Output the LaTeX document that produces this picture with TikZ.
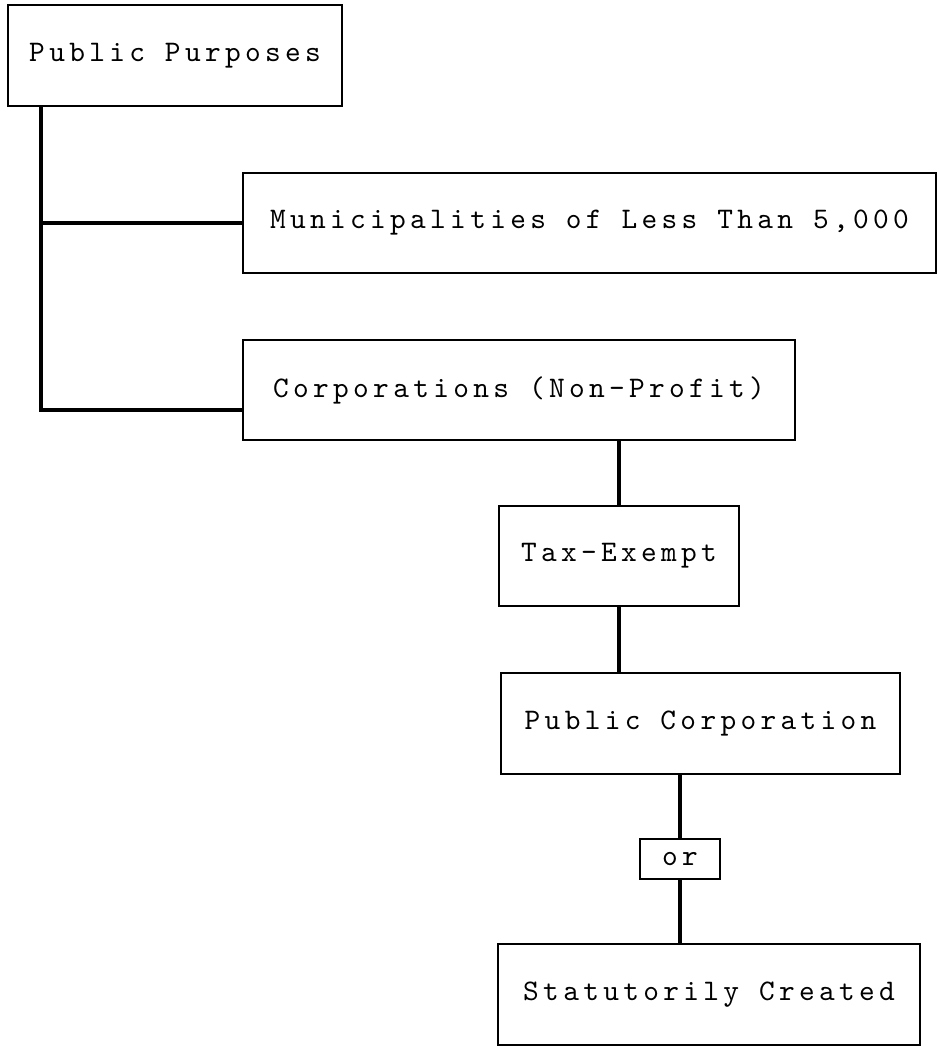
\documentclass[tikz,border=0pt]{standalone}
\usepackage{fontspec}
\newfontfamily\typefont[LetterSpace=14.5]{lmmono10-regular.otf}
\usepackage{tikz}

\tikzset{
  chartbox/.style={rectangle, draw, line width=1.3pt, inner sep=0pt,
    font=\typefont\fontsize{17}{20}\selectfont},
  link/.style={line width=2pt}
}

\begin{document}
\begin{tikzpicture}[x=0.02cm, y=-0.02cm]
    \useasboundingbox (0,0) rectangle (938,1047);
    % boxes
    \node[chartbox, minimum width=6.68cm, minimum height=2.02cm] (pp) at (175,55.5) {Public Purposes};
    \node[chartbox, minimum width=13.86cm, minimum height=2.0cm] (muni) at (589.5,223) {Municipalities of Less Than 5,000};
    \node[chartbox, minimum width=11.04cm, minimum height=2.0cm] (corp) at (519,390) {Corporations (Non-Profit)};
    \node[chartbox, minimum width=4.8cm, minimum height=2.0cm] (tax) at (619,556) {Tax-Exempt};
    \node[chartbox, minimum width=7.98cm, minimum height=2.02cm] (pubcorp) at (700.5,723.5) {Public Corporation};
    \node[chartbox, minimum width=1.6cm, minimum height=0.8cm] (orbox) at (680,859) {or};
    \node[chartbox, minimum width=8.44cm, minimum height=2.02cm] (stat) at (709,994.5) {Statutorily Created};
    \coordinate (trunk) at (41,410);

    % connectors
    \draw[link] (pp.south -| trunk) -- (trunk) -- (corp.west |- trunk);
    \draw[link] (pp.south -| trunk) |- (muni.west);
    \draw[link] (tax.north) -- (tax.north |- corp.south);
    \draw[link] (tax.south) -- (tax.south |- pubcorp.north);
    \draw[link] (orbox.north) -- (orbox.north |- pubcorp.south);
    \draw[link] (orbox.south) -- (orbox.south |- stat.north);
\end{tikzpicture}
\end{document}
